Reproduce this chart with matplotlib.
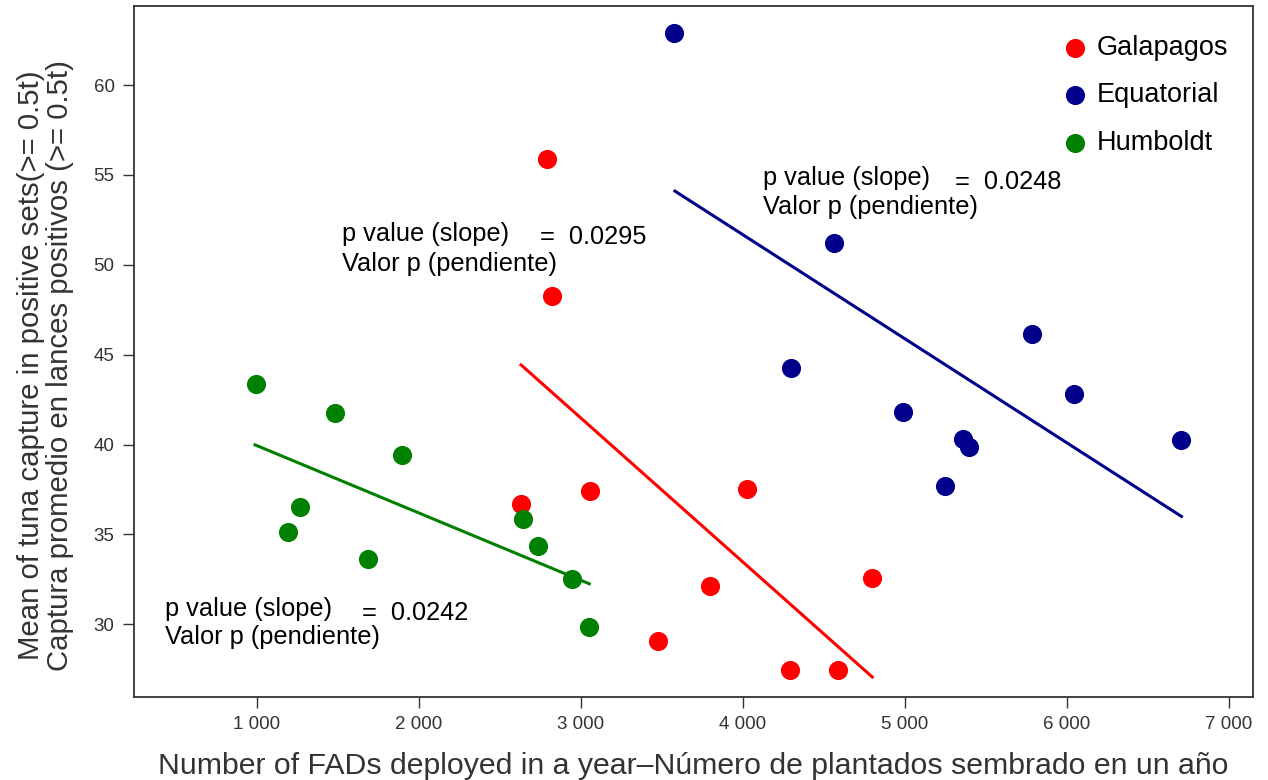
import matplotlib
matplotlib.use('Agg')
import matplotlib.pyplot as plt

plt.rcParams['font.family'] = ['Liberation Sans', 'DejaVu Sans']

# datos por region (plantados por año, captura promedio)
gal_x = [2788, 2821, 2631, 3057, 4023, 3794, 3473, 4798, 4290, 4588]
gal_y = [55.87, 48.28, 36.67, 37.41, 37.50, 32.14, 29.04, 32.57, 27.45, 27.45]

equ_x = [3574, 4562, 4296, 4986, 5360, 5395, 5245, 5786, 6043, 6706]
equ_y = [62.89, 51.2, 44.25, 41.82, 40.30, 39.85, 37.70, 46.13, 42.79, 40.25]

hum_x = [992, 1481, 1893, 1264, 1193, 1685, 2640, 2736, 2943, 3049]
hum_y = [43.37, 41.74, 39.44, 36.55, 35.12, 33.64, 35.88, 34.36, 32.54, 29.82]

# rectas de regresion (inicio, fin)
gal_fit_x = [2630, 4798]
gal_fit_y = [44.43, 27.06]
equ_fit_x = [3580, 6706]
equ_fit_y = [54.1, 36.0]
hum_fit_x = [988, 3051]
hum_fit_y = [39.98, 32.25]

# p values
gal_p = '0.0295'
equ_p = '0.0248'
hum_p = '0.0242'

xticks = [1000, 2000, 3000, 4000, 5000, 6000, 7000]
xtick_labels = ['1 000', '2 000', '3 000', '4 000', '5 000', '6 000', '7 000']
yticks = [30, 35, 40, 45, 50, 55, 60]

c_gal = '#ff0000'
c_equ = '#00008b'
c_hum = '#008000'

fig = plt.figure(figsize=(12.68, 7.8), dpi=100)
ax = fig.add_axes([0.1057, 0.1064, 0.8825, 0.8859])

ax.scatter(gal_x, gal_y, s=190, color=c_gal, label='Galapagos', zorder=3, linewidths=0)
ax.scatter(equ_x, equ_y, s=190, color=c_equ, label='Equatorial', zorder=3, linewidths=0)
ax.scatter(hum_x, hum_y, s=190, color=c_hum, label='Humboldt', zorder=3, linewidths=0)

ax.plot(gal_fit_x, gal_fit_y, color=c_gal, lw=2.2)
ax.plot(equ_fit_x, equ_fit_y, color=c_equ, lw=2.2)
ax.plot(hum_fit_x, hum_fit_y, color=c_hum, lw=2.2)

# anotaciones: cada linea por separado
fs = 18.3
def pval(x_lab, y1, y2, x_eq, y_eq, p):
    ax.text(x_lab, y1, 'p value (slope)', fontsize=fs, va='center', ha='left')
    ax.text(x_lab, y2, 'Valor p (pendiente)', fontsize=fs, va='center', ha='left')
    ax.text(x_eq, y_eq, '=  ' + p, fontsize=fs, va='center', ha='left')

pval(1525, 51.71, 50.04, 2747, 51.55, gal_p)
pval(4123, 54.84, 53.23, 5309, 54.62, equ_p)
pval(432, 30.84, 29.28, 1648, 30.62, hum_p)

ax.set_xlim(241, 7148)
ax.set_ylim(25.95, 64.4)
ax.set_xticks(xticks)
ax.set_xticklabels(xtick_labels)
ax.set_yticks(yticks)

for sp in ax.spines.values():
    sp.set_color('#333333')
    sp.set_linewidth(1.3)
ax.tick_params(axis='both', direction='out', length=8, width=1, color='#333333',
               labelcolor='#333333', labelsize=13.5, pad=6)

ax.set_xlabel('Number of FADs deployed in a year\u2013Número de plantados sembrado en un año',
              fontsize=21.8, color='#333333', labelpad=13)
ax.set_ylabel('Mean of tuna capture in positive sets(>= 0.5t)\nCaptura promedio en lances positivos (>= 0.5t)',
              fontsize=21.2, color='#333333', linespacing=1.05)
ax.yaxis.set_label_coords(-0.054, 0.48)

leg = ax.legend(loc='upper right', frameon=False, fontsize=19.5, handletextpad=0.3,
                handlelength=1.0, labelspacing=0.8, borderaxespad=0.0,
                bbox_to_anchor=(0.9875, 0.974))

fig.savefig('out.png', dpi=100)
